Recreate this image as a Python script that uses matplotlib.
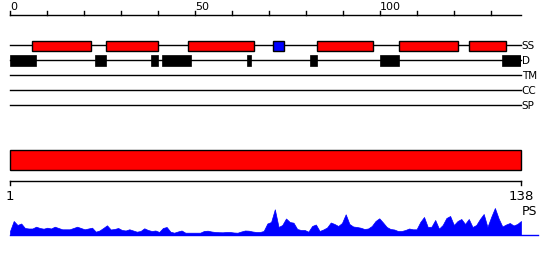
import numpy as np
import matplotlib
matplotlib.use("Agg")
import matplotlib.pyplot as plt
from matplotlib.patches import Rectangle

# ---------------- data ----------------
seq_len = 138

# secondary structure (start, end) in residues
helices = [(6, 22), (26, 40), (48, 66), (83, 98), (105, 121), (124, 134)]
strands = [(71, 74)]
# disordered regions
disorder = [(0, 7), (23, 26), (38, 40), (41, 49), (64, 65), (81, 83), (100, 105), (133, 138)]

track_names = ["SS", "D", "TM", "CC", "SP"]

top_ticks = list(range(0, 131, 10))
top_labels = [0, 50, 100]

# PS profile, one value per residue (1..138)
ps_values = [
    4, 14, 10, 11.5, 7, 6.5, 6.5, 8.3, 7, 6.3,
    7.3, 6.5, 8.3, 7, 5.7, 5.7, 5.7, 7, 8.3, 7,
    5.7, 6.5, 7.3, 3.3, 4.5, 7, 9.7, 5.5, 6, 7,
    5, 4.5, 5.7, 4.5, 3.3, 4, 6.7, 5, 4, 4.5,
    3, 7, 8, 3.3, 2.3, 3.5, 4.5, 2.3, 2.3, 2.3,
    2.3, 2.3, 4, 4.3, 3.5, 3, 2.8, 2.7, 3, 3,
    2.5, 2.3, 3.5, 4.5, 4.3, 3.5, 3, 3, 4, 11.5,
    13, 25.7, 8, 10, 16.5, 13, 12.3, 6, 5, 5,
    3.3, 9, 10.5, 4, 5.5, 7.5, 12.5, 11, 9, 12,
    20.7, 11, 8.5, 8, 7.3, 6, 6.5, 9, 14, 16.7,
    12.5, 8, 6, 5.5, 4, 4, 5, 6.5, 5.7, 5.7,
    13, 18, 8, 8.3, 15, 6.3, 10, 17, 19, 10,
    14, 16, 11, 16, 8, 10, 16, 21, 8, 18,
    27, 16.5, 8.5, 10.5, 12, 9.5, 11, 14,
]
residues = np.arange(1, seq_len + 1)

# ---------------- figure ----------------
W, H = 550, 260
fig = plt.figure(figsize=(W / 100, H / 100), dpi=100)

def px_axes(x0, x1, y0, y1):
    # axes placed by pixel box (top-left origin)
    return fig.add_axes([x0 / W, 1 - y1 / H, (x1 - x0) / W, (y1 - y0) / H])

#### top panel: ruler + tracks
ax = px_axes(10, 521, 0, 115)
ax.set_xlim(0, seq_len)
ax.set_ylim(115, 0)
ax.axis("off")

ax.plot([0, seq_len], [15, 15], color="black", lw=1, clip_on=False)
for t in top_ticks:
    ax.plot([t, t], [15, 11], color="black", lw=1, clip_on=False)
for t in top_labels:
    ax.text(t, 10, str(t), ha="left", va="baseline", fontsize=8, clip_on=False)

track_y = [45, 60, 75, 90, 105]
for name, y in zip(track_names, track_y):
    ax.plot([0, seq_len], [y, y], color="black", lw=1, zorder=1, clip_on=False)
    ax.text(seq_len + 0.2, y + 4, name, ha="left", va="baseline", fontsize=7.5, clip_on=False)

for s, e in helices:
    ax.add_patch(Rectangle((s, 40.5), e - s, 10, facecolor="#ff0000", edgecolor="black", lw=1, zorder=2))
for s, e in strands:
    ax.add_patch(Rectangle((s, 40.5), e - s, 10, facecolor="#0000ff", edgecolor="black", lw=1, zorder=2))
for s, e in disorder:
    ax.add_patch(Rectangle((s, 55), e - s, 10.5, facecolor="black", edgecolor="black", lw=0.5, zorder=2))

#### bottom panel: domain bar + ruler
ax2 = px_axes(10, 521, 140, 205)
ax2.set_xlim(1, seq_len)
ax2.set_ylim(205, 140)
ax2.axis("off")
ax2.add_patch(Rectangle((1, 150), seq_len - 1, 20, facecolor="#ff0000", edgecolor="black", lw=1, clip_on=False))
ax2.plot([1, seq_len], [181, 181], color="black", lw=1, clip_on=False)
for t in [1, seq_len]:
    ax2.plot([t, t], [181, 185], color="black", lw=1, clip_on=False)
    ax2.text(t, 200, str(t), ha="center", va="baseline", fontsize=9.5, clip_on=False)

#### PS profile
ax3 = px_axes(10, 521, 200, 235)
ax3.set_xlim(1, seq_len)
ax3.set_ylim(0, 35)
ax3.axis("off")
ax3.fill_between(residues, ps_values, 0, color="#0000ff", lw=0.5, edgecolor="#0000ff")
ax3.plot([1, seq_len + 4.5], [0, 0], color="#0000ff", lw=1, clip_on=False)
ax3.text(seq_len + 0.3, 20, "PS", ha="left", va="baseline", fontsize=9, clip_on=False)

fig.savefig("out.png", dpi=100)
